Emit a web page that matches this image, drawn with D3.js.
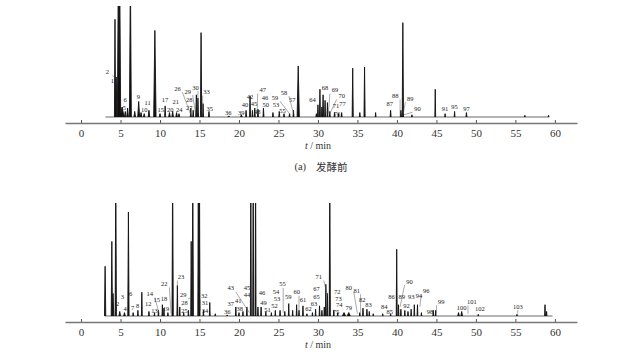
<!DOCTYPE html>
<html>
<head>
<meta charset="utf-8">
<script src="https://cdn.jsdelivr.net/npm/d3@7"></script>
<style>
  body { margin: 0; background: #fff; }
  svg { display: block; }
  .peak-label { font-family: "Liberation Serif", "DejaVu Serif", serif; font-size: 6.5px; fill: #222; }
  .tick text { font-family: "Liberation Serif", serif; font-size: 11px; fill: #333; }
</style>
</head>
<body>
<svg id="chart" width="640" height="360"></svg>
<script>
// tick values (min)
const ticks = [0, 5, 10, 15, 20, 25, 30, 35, 40, 45, 50, 55, 60];

// peaks: [retention time (min), relative height, half width (min)]
const peaksA = [
  [4.3, 88, 0.07], [4.45, 36, 0.1], [4.72, 130, 0.12], [4.9, 130, 0.12], [5.2, 9, 0.25],
  [5.6, 5, 0.1], [5.9, 8, 0.1], [6.25, 130, 0.12], [6.8, 5, 0.1], [7.3, 14, 0.12],
  [7.6, 4, 0.1], [8.0, 3, 0.1], [8.6, 6, 0.1], [9.35, 78, 0.15], [10.0, 3, 0.1],
  [10.65, 10, 0.06], [11.2, 4, 0.1], [11.6, 5, 0.1], [12.1, 4, 0.1], [12.4, 3, 0.1],
  [13.9, 8, 0.06], [14.2, 6, 0.06], [14.6, 20, 0.08], [14.8, 17, 0.08], [15.2, 76, 0.08],
  [15.45, 12, 0.06], [16.2, 5, 0.06], [18.7, 1, 0.1], [20.3, 2, 0.1], [20.9, 6, 0.06],
  [21.4, 19, 0.06], [21.7, 6, 0.06], [22.0, 8, 0.06], [22.4, 7, 0.06], [23.1, 8, 0.06],
  [24.3, 4, 0.06], [25.1, 5, 0.06], [25.7, 3, 0.06], [26.4, 3, 0.06], [26.9, 6, 0.06],
  [27.5, 46, 0.14], [29.8, 3, 0.06], [30.0, 11, 0.06], [30.25, 25, 0.06], [30.5, 9, 0.06],
  [30.65, 20, 0.06], [30.9, 15, 0.06], [31.2, 13, 0.06], [31.5, 5, 0.06], [32.1, 4, 0.06],
  [32.6, 3, 0.06], [33.0, 4, 0.06], [34.4, 44, 0.07], [35.3, 4, 0.06], [35.9, 45, 0.07],
  [37.3, 4, 0.05], [39.2, 6, 0.06], [40.5, 6, 0.08], [40.75, 85, 0.08], [41.9, 2, 0.06],
  [44.85, 25, 0.05], [46.1, 3, 0.05], [47.3, 5, 0.05], [48.8, 4, 0.06], [56.2, 1.5, 0.05],
  [59.2, 1.5, 0.05]
];

const peaksB = [
  [3.05, 44, 0.08], [3.9, 66, 0.08], [4.05, 20, 0.1], [4.4, 130, 0.08], [4.9, 4, 0.1],
  [5.5, 3, 0.1], [6.0, 92, 0.08], [6.6, 3, 0.05], [7.2, 5, 0.05], [7.7, 21, 0.05],
  [8.6, 4, 0.05], [9.3, 3, 0.05], [9.8, 5, 0.05], [10.3, 10, 0.05], [10.5, 7, 0.05],
  [11.0, 3, 0.05], [11.6, 130, 0.08], [12.2, 27, 0.06], [12.5, 8, 0.05], [13.0, 3, 0.05],
  [13.6, 5, 0.05], [13.95, 66, 0.06], [14.15, 130, 0.08], [14.85, 130, 0.06], [15.0, 130, 0.06],
  [15.5, 5, 0.05], [16.3, 12, 0.05], [17.0, 2, 0.05], [18.5, 1, 0.05], [19.6, 8, 0.05],
  [20.0, 3, 0.05], [20.5, 4, 0.05], [21.0, 8, 0.05], [21.5, 130, 0.06], [21.8, 130, 0.06],
  [22.1, 130, 0.06], [22.4, 8, 0.05], [22.8, 8, 0.05], [23.4, 4, 0.05], [24.1, 3, 0.05],
  [24.6, 5, 0.05], [25.2, 5, 0.05], [25.8, 4, 0.05], [26.3, 11, 0.05], [26.8, 5, 0.05],
  [27.3, 10, 0.05], [27.6, 5, 0.05], [28.1, 9, 0.05], [28.6, 2, 0.05], [29.3, 3, 0.05],
  [29.7, 6, 0.05], [30.2, 9, 0.05], [30.5, 5, 0.05], [30.8, 8, 0.05], [31.0, 28, 0.05],
  [31.2, 20, 0.05], [31.5, 130, 0.07], [32.0, 5, 0.05], [32.5, 3, 0.05], [33.3, 3, 0.2],
  [33.9, 3, 0.2], [35.3, 3, 0.05], [35.7, 7, 0.05], [36.2, 6, 0.05], [36.5, 4, 0.05],
  [37.0, 2, 0.05], [38.2, 2, 0.05], [39.2, 2, 0.05], [39.97, 59, 0.06], [40.2, 10, 0.05],
  [40.5, 6, 0.05], [41.0, 5, 0.05], [41.4, 4, 0.05], [41.8, 6, 0.05], [42.2, 10, 0.05],
  [42.6, 10, 0.05], [43.1, 3, 0.05], [44.6, 5, 0.05], [44.9, 5, 0.05], [47.8, 3, 0.1],
  [48.2, 4, 0.1], [50.3, 1.5, 0.05], [55.2, 1.5, 0.05], [58.75, 10, 0.05], [58.95, 4, 0.05]
];

// baseline extent (min)
const baselineA = [3.1, 59.3];
const baselineB = [3.0, 59.7];

// peak labels: [number, time, height, leader target time, leader target height]
const labelsA = [
  ["1", 3.97, 32], ["2", 3.33, 39.7, 4.35, 36], ["5", 5.48, 7.5], ["6", 5.57, 15, 6.1, 12],
  ["9", 7.26, 17.5], ["10", 8.0, 5.5], ["11", 8.44, 12.5], ["15", 10.08, 5.5], ["17", 10.63, 15],
  ["20", 11.3, 6], ["21", 12.0, 13], ["24", 12.45, 6], ["26", 12.2, 25, 13.9, 2],
  ["27", 13.7, 8], ["28", 13.7, 15], ["29", 13.5, 22.5, 14.5, 3], ["30", 14.5, 26, 14.8, 3],
  ["33", 15.9, 22, 15.4, 3], ["35", 16.3, 7], ["36", 18.65, 2.7], ["39", 20.3, 3],
  ["40", 20.76, 10], ["42", 21.4, 17.5], ["45", 21.9, 11], ["47", 23.0, 24, 22.3, 3],
  ["46", 23.3, 17], ["48", 22.3, 4], ["50", 23.4, 10], ["59", 24.55, 17, 26.5, 2],
  ["58", 25.7, 21.5, 26.9, 3], ["57", 26.75, 14.5], ["53", 24.7, 10.5], ["55", 25.5, 4.5],
  ["64", 29.3, 14.5], ["68", 30.9, 25.5], ["69", 32.15, 23.6, 31.3, 3], ["70", 33.0, 18.5, 31.5, 3],
  ["77", 33.1, 11.5], ["71", 32.3, 9], ["76", 32.4, 2.5], ["87", 39.1, 11.5],
  ["88", 39.8, 18.5, 40.4, 2], ["89", 41.7, 16, 40.8, 3], ["90", 42.6, 7, 40.9, 2],
  ["91", 46.1, 7], ["95", 47.3, 8.5], ["97", 48.8, 7]
];

const labelsB = [
  ["2", 4.64, 10.5], ["3", 5.23, 16], ["4", 5.57, 6], ["6", 6.29, 19], ["7", 6.54, 7],
  ["8", 7.17, 8], ["12", 8.5, 10], ["14", 8.7, 19, 9.9, 2], ["13", 9.3, 4], ["15", 9.6, 14],
  ["18", 10.5, 15], ["19", 10.75, 6], ["22", 10.55, 28, 11.4, 2], ["23", 12.65, 34, 12.2, 26],
  ["25", 13.1, 4], ["28", 13.1, 11], ["29", 12.95, 18, 13.9, 16], ["32", 15.6, 17.5, 15.1, 5],
  ["31", 15.7, 11], ["34", 15.7, 4], ["36", 18.5, 3], ["37", 18.95, 10.6], ["41", 19.9, 12.5],
  ["38", 20.1, 5.5], ["43", 18.95, 24, 21.3, 3], ["45", 21.0, 24.5], ["44", 21.0, 18],
  ["46", 22.9, 20], ["49", 23.1, 11], ["51", 23.6, 5], ["52", 24.5, 8], ["53", 24.8, 14.5],
  ["54", 24.7, 21], ["55", 25.5, 27.5, 25.6, 3], ["59", 26.25, 16.5], ["60", 27.3, 20.6, 27.6, 3],
  ["61", 28.1, 13.5], ["62", 28.8, 6], ["63", 29.5, 10], ["65", 29.8, 16.5], ["67", 29.8, 23],
  ["71", 30.1, 34, 31.2, 18], ["72", 32.45, 21], ["73", 32.6, 15], ["74", 32.7, 9],
  ["75", 32.3, 3], ["79", 33.9, 7], ["80", 33.9, 24, 35.0, 2], ["81", 34.9, 22, 35.4, 3],
  ["82", 35.6, 13.5], ["83", 36.4, 9], ["84", 38.4, 7.7], ["85", 39.1, 3], ["86", 39.3, 16],
  ["89", 40.6, 16], ["90", 41.6, 30, 40.4, 8], ["93", 41.8, 16], ["92", 41.2, 8],
  ["94", 42.8, 17], ["96", 43.7, 21.5, 42.9, 8], ["98", 44.2, 3], ["99", 45.6, 12, 45.0, 2],
  ["100", 48.2, 6.8], ["101", 49.5, 12, 49.0, 2], ["102", 50.5, 6], ["103", 55.3, 7.7, 55.3, 2]
];

const svg = d3.select("#chart");

// time axis spans a bit beyond the 0..60 ticks
const x = d3.scaleLinear().domain([-2.03, 62.8]).range([65, 577]);

function drawPanel(cfg) {
    const y = d3.scaleLinear().domain([0, 100]).range([cfg.base, cfg.top]);
    const g = svg.append("g");

    const clipId = "clip-" + cfg.name;
    svg.append("clipPath").attr("id", clipId)
        .append("rect")
        .attr("x", 0).attr("width", 640)
        .attr("y", cfg.top).attr("height", cfg.base - cfg.top + 2);

    const plot = g.append("g").attr("clip-path", "url(#" + clipId + ")");

    // baseline
    plot.append("line")
        .attr("x1", x(cfg.baseline[0])).attr("x2", x(cfg.baseline[1]))
        .attr("y1", y(0)).attr("y2", y(0))
        .attr("stroke", "#444").attr("stroke-width", 0.8);

    const line = d3.line().x(d => x(d[0])).y(d => y(d[1]));
    plot.selectAll("path.peak")
        .data(cfg.peaks)
        .enter().append("path")
        .attr("class", "peak")
        .attr("d", d => line([[d[0] - d[2], 0], [d[0], d[1]], [d[0] + d[2], 0]]))
        .attr("fill", "#111")
        .attr("stroke", "#111")
        .attr("stroke-width", 0.9)
        .attr("stroke-linejoin", "round");

    // leader lines
    g.selectAll("line.leader")
        .data(cfg.labels.filter(d => d.length > 3))
        .enter().append("line")
        .attr("class", "leader")
        .attr("x1", d => {
            const dx = x(d[3]) - x(d[1]);
            return x(d[1]) + Math.sign(dx) * Math.min(Math.abs(dx), 5);
        })
        .attr("y1", d => y(d[2]) + (y(d[4]) > y(d[2]) ? 3 : -3))
        .attr("x2", d => x(d[3]))
        .attr("y2", d => y(d[4]))
        .attr("stroke", "#555")
        .attr("stroke-width", 0.5);

    g.selectAll("text.peak-label")
        .data(cfg.labels)
        .enter().append("text")
        .attr("class", "peak-label")
        .attr("x", d => x(d[1]))
        .attr("y", d => y(d[2]))
        .attr("text-anchor", "middle")
        .attr("dominant-baseline", "middle")
        .text(d => d[0]);

    // axis
    const axis = g.append("g")
        .attr("transform", "translate(0," + cfg.axisY + ")")
        .call(d3.axisBottom(x).tickValues(ticks).tickSizeInner(-3).tickSizeOuter(0).tickPadding(6));
    axis.select(".domain").attr("stroke", "#777").attr("stroke-width", 1.5);
    axis.selectAll(".tick line").attr("stroke", "#555");

    const title = g.append("text")
        .attr("x", 318)
        .attr("y", cfg.axisY + 24)
        .attr("text-anchor", "middle")
        .attr("dominant-baseline", "middle")
        .attr("font-family", "Liberation Serif, serif")
        .attr("font-size", 10)
        .attr("fill", "#333");
    title.append("tspan").attr("font-style", "italic").text("t");
    title.append("tspan").text(" / min");
}

drawPanel({ name: "a", top: 6, base: 117, axisY: 123, baseline: baselineA, peaks: peaksA, labels: labelsA });
drawPanel({ name: "b", top: 203, base: 316, axisY: 322, baseline: baselineB, peaks: peaksB, labels: labelsB });

// panel caption
const caption = svg.append("text")
    .attr("x", 321).attr("y", 168)
    .attr("text-anchor", "middle")
    .attr("dominant-baseline", "middle")
    .attr("font-size", 10.5)
    .attr("fill", "#333");
caption.append("tspan").attr("font-family", "Liberation Serif, serif").text("(a)");
caption.append("tspan").attr("dx", 10).attr("font-family", "Noto Sans CJK SC, sans-serif").text("发酵前");
</script>
</body>
</html>
